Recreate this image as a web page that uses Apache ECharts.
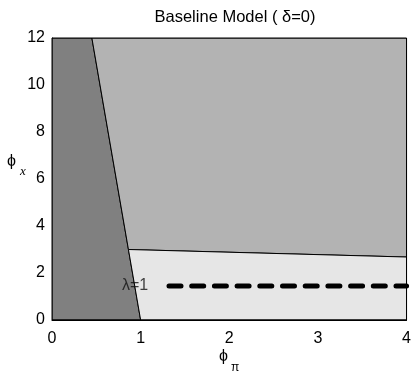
<!DOCTYPE html>
<html>
<head>
<meta charset="utf-8">
<script src="https://cdn.jsdelivr.net/npm/echarts@6/dist/echarts.min.js"></script>
<style>
  html, body { margin: 0; padding: 0; background: #fff; }
  #chart { width: 414px; height: 375px; }
</style>
</head>
<body>
<div id="chart"></div>
<script>
// region polygons in (phi_pi, phi_x) space
const darkRegion = [[0, 0], [1, 0], [0.45, 12], [0, 12]]
const midRegion = [[0.45, 12], [4, 12], [4, 2.68], [0.8625, 3]]
const lightRegion = [[0.8625, 3], [4, 2.68], [4, 0], [1, 0]]
const regionColors = ['#808080', '#b3b3b3', '#e6e6e6']

// lambda = 1 line
const lambdaLine = [[1.32, 1.45], [4, 1.45]]
const lambdaLabel = [[0.79, 1.45]]

const xTicks = [0, 1, 2, 3, 4]
const yTicks = [0, 2, 4, 6, 8, 10, 12]

const regions = [darkRegion, midRegion, lightRegion]
const font = 'Liberation Sans, Arial, sans-serif'

const chart = echarts.init(document.getElementById('chart'))

chart.setOption({
  animation: false,
  title: {
    text: 'Baseline Model ( δ=0)',
    left: 230,
    textAlign: 'center',
    top: 4,
    textStyle: { fontFamily: font, fontSize: 16.5, fontWeight: 'normal', color: '#000' }
  },
  grid: { left: 52, right: 5, top: 38, bottom: 55, show: true, borderColor: '#000', borderWidth: 1, z: 10 },
  xAxis: {
    type: 'value',
    min: xTicks[0],
    max: xTicks[xTicks.length - 1],
    interval: 1,
    splitLine: { show: false },
    axisTick: { show: false },
    axisLine: { lineStyle: { color: '#000' } },
    axisLabel: { color: '#000', fontFamily: font, fontSize: 16, margin: 11 }
  },
  yAxis: {
    type: 'value',
    min: yTicks[0],
    max: yTicks[yTicks.length - 1],
    interval: 2,
    splitLine: { show: false },
    axisTick: { show: false },
    axisLine: { lineStyle: { color: '#000' } },
    axisLabel: { color: '#000', fontFamily: font, fontSize: 16, margin: 7 }
  },
  graphic: [
    {
      type: 'text', left: 7, top: 154,
      style: { text: 'ϕ', font: '16px ' + font, fill: '#000' }
    },
    {
      type: 'text', left: 20, top: 165,
      style: { text: 'x', font: 'italic 13px "Liberation Serif", serif', fill: '#000' }
    },
    {
      type: 'text', left: 219, top: 349,
      style: { text: 'ϕ', font: '16px ' + font, fill: '#000' }
    },
    {
      type: 'text', left: 231, top: 362,
      style: { text: 'π', font: '12px ' + font, fill: '#000' }
    }
  ],
  series: [
    {
      type: 'custom',
      clip: true,
      data: regions.map((_, i) => i),
      renderItem: (params, api) => {
        const poly = regions[params.dataIndex].map(p => api.coord(p))
        return {
          type: 'polygon',
          shape: { points: poly },
          style: { fill: regionColors[params.dataIndex], stroke: '#000', lineWidth: 1 }
        }
      },
      z: 1
    },
    {
      type: 'line',
      data: lambdaLine,
      symbol: 'none',
      clip: true,
      lineStyle: { color: '#000', width: 5, type: [12, 10.7], cap: 'round' },
      z: 3
    },
    {
      type: 'scatter',
      data: lambdaLabel,
      symbolSize: 0,
      label: {
        show: true,
        position: 'right',
        distance: 0,
        formatter: 'λ=1',
        fontFamily: font,
        fontSize: 16,
        color: '#111'
      },
      z: 4
    }
  ]
})
</script>
</body>
</html>
